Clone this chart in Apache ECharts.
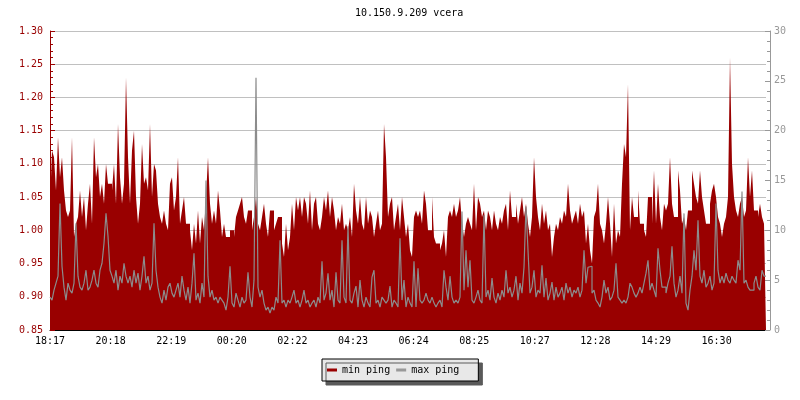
<!DOCTYPE html>
<html>
<head>
<meta charset="utf-8">
<script src="https://cdn.jsdelivr.net/npm/echarts@6/dist/echarts.min.js"></script>
<style>
html,body{margin:0;padding:0;background:#fff;}
#chart{width:800px;height:400px;}
</style>
</head>
<body>
<div id="chart"></div>
<script>
const chartTitle = '10.150.9.209 vcera';
const tickLabels = ['18:17','20:18','22:19','00:20','02:22','04:23','06:24','08:25','10:27','12:28','14:29','16:30'];
const seriesNames = ['min ping', 'max ping'];

const minPing = [
1.04,1.12,1.11,1.06,1.14,1.08,1.11,1.06,1.03,1.02,
1.03,1.14,0.99,1.01,1.02,1.06,1.02,1.05,1.00,1.04,
1.07,1.01,1.14,1.08,1.10,1.05,1.07,1.04,1.10,1.07,
1.07,1.06,1.10,1.04,1.16,1.08,1.04,1.07,1.23,1.11,
1.04,1.12,1.15,1.05,1.01,1.04,1.13,1.07,1.08,1.06,
1.16,1.05,1.10,1.09,1.04,1.02,1.01,1.03,1.01,1.00,
1.07,1.08,1.03,1.05,1.11,1.01,1.03,1.05,1.01,1.01,
1.00,0.97,1.01,0.98,1.03,0.98,1.02,1.00,1.05,1.11,
1.04,1.01,1.03,1.01,1.06,1.03,0.99,1.01,0.99,0.99,

1.00,1.00,0.99,1.02,1.03,1.04,1.05,1.02,1.01,1.03,
1.03,1.00,1.02,1.05,1.01,1.00,1.02,1.04,1.01,0.99,
1.03,1.03,1.00,1.01,1.02,1.02,0.98,0.96,1.01,0.97,
0.99,1.04,1.00,1.05,1.03,1.05,1.02,1.05,1.04,1.01,
1.06,1.00,1.04,1.05,1.01,1.00,1.02,1.05,1.03,1.06,
1.02,1.05,1.03,1.00,1.02,1.01,1.04,1.00,1.01,1.00,
1.02,0.99,1.07,1.03,1.01,1.05,1.01,1.00,1.05,1.01,
1.03,1.02,0.99,1.01,1.03,1.00,1.01,1.16,1.11,1.02,
1.04,1.05,1.00,1.02,1.04,1.00,1.05,1.02,0.99,1.01,

0.97,0.96,1.02,1.03,1.02,1.03,1.01,1.06,1.04,1.00,
1.00,1.05,0.99,0.98,0.98,0.97,0.98,1.00,0.96,1.02,
1.03,1.02,1.04,1.02,1.03,1.05,1.01,0.99,1.01,1.02,
1.01,1.00,1.07,1.00,1.05,1.04,1.02,1.03,1.00,1.03,
1.02,1.00,1.03,1.01,1.00,1.02,1.01,1.03,1.04,1.00,
1.06,1.02,1.02,1.04,1.01,1.03,1.05,1.02,1.04,1.01,
0.99,1.02,1.11,1.05,1.02,1.00,1.04,1.01,1.03,1.00,
1.01,0.96,0.99,1.01,1.00,1.02,1.01,1.03,1.02,1.07,
1.03,1.01,1.02,1.03,1.01,1.04,1.02,1.03,0.98,1.01,

0.97,0.95,1.02,1.03,1.07,1.01,1.00,0.98,1.01,1.05,
1.01,0.96,1.04,0.98,1.00,0.99,1.07,1.13,1.11,1.22,
1.00,1.05,1.02,1.02,1.06,1.01,1.01,1.00,0.99,1.05,
1.05,1.01,1.09,1.01,1.07,1.02,1.00,1.04,1.03,1.04,
1.11,1.04,1.02,1.02,1.09,1.06,1.01,1.02,1.00,1.03,
1.03,1.09,1.07,1.05,1.04,1.09,1.05,1.03,1.01,1.01,
1.04,1.06,1.07,1.05,1.02,1.01,0.99,1.01,1.02,1.05,
1.26,1.10,1.05,1.03,1.02,1.04,1.05,1.02,1.03,1.11,
1.05,1.09,1.03,1.03,1.02,1.04,1.02,1.01
];

const maxPing = [
3.3,3.0,4.0,4.7,5.4,12.7,6.4,4.3,3.0,4.7,
4.0,3.7,4.7,10.7,5.4,4.3,4.0,4.7,6.0,4.0,
4.3,5.0,6.0,4.7,4.3,6.0,6.7,8.7,11.7,9.4,
6.0,5.4,4.7,6.0,4.0,5.4,4.7,6.7,5.4,4.7,
5.4,4.3,6.0,4.7,5.7,4.0,5.4,7.4,4.7,5.4,
4.0,4.7,10.7,6.0,4.3,3.3,2.7,4.0,3.0,4.3,
4.7,3.7,3.3,4.0,4.7,3.3,5.4,4.0,3.0,4.3,
2.7,4.7,7.7,3.0,3.7,2.7,4.7,3.3,15.0,5.4,
3.3,4.0,3.0,3.3,2.7,3.3,3.0,2.7,2.0,3.3,

6.4,2.7,2.3,3.7,3.0,2.3,3.3,2.7,3.0,5.8,
3.3,2.3,5.0,25.3,4.3,3.3,4.0,2.7,2.0,2.3,
1.7,2.3,2.0,3.3,2.7,9.0,2.7,3.0,2.3,3.0,
2.7,3.3,4.0,2.7,3.0,2.3,3.0,4.0,2.7,3.0,
2.3,2.7,3.0,2.3,3.3,2.7,6.9,3.0,3.7,5.7,
3.0,4.0,2.3,5.8,3.0,2.7,9.0,3.3,2.7,10.4,
3.0,2.7,3.7,4.4,2.3,5.0,3.0,2.3,3.3,2.7,
2.3,5.3,6.0,2.7,3.0,2.3,3.3,3.0,2.7,3.0,
4.4,2.3,3.0,2.7,2.3,9.2,3.0,5.0,2.3,3.3,

2.7,2.3,6.9,2.3,6.2,3.0,2.7,3.0,3.7,3.0,
2.7,3.3,2.7,2.3,2.7,3.0,2.3,6.0,4.3,3.0,
5.4,3.3,2.7,3.0,2.7,3.3,11.9,4.0,8.0,4.3,
7.0,3.0,2.7,3.3,4.0,3.0,2.7,11.5,3.3,4.0,
3.0,5.2,3.3,2.7,3.7,3.0,4.0,3.3,6.0,3.7,
4.3,3.3,4.0,5.4,3.0,4.7,3.7,6.3,12.4,8.0,
3.7,4.3,6.0,3.3,4.0,3.7,6.5,3.3,5.2,3.0,
3.7,4.8,3.0,4.3,3.3,3.7,4.3,3.0,4.7,3.7,
4.3,3.3,4.0,3.7,4.3,3.3,4.0,8.0,4.7,6.3,

6.4,3.7,4.0,3.0,2.7,2.3,3.3,5.0,3.7,4.3,
3.0,3.3,4.0,6.7,3.3,3.0,2.7,3.0,2.7,3.3,
4.7,4.3,3.7,3.3,3.7,4.3,3.7,4.7,5.7,7.0,
4.0,4.7,4.0,3.3,8.2,6.0,4.3,4.3,3.7,4.7,
5.4,8.4,4.7,3.3,4.0,5.4,3.7,11.7,2.7,2.0,
4.0,5.4,8.0,6.0,11.0,5.4,4.7,6.0,4.3,4.7,
5.4,4.0,4.7,12.7,6.0,4.7,5.4,4.7,5.7,5.0,
4.7,5.4,5.0,4.7,7.0,6.0,13.9,4.7,5.0,4.3,
4.0,4.0,4.7,5.4,4.3,4.0,6.0,5.4
];

const N = minPing.length;
const TICK_STEP = 30.3; // samples between time labels
const FONT = 'DejaVu Sans Mono';
const RED = '#990000';
const GRAY = '#999999';
const LINE_GRAY = '#8c8c8c';

// each sample holds its value over its whole interval [i, i+1]
function stepData(arr) {
  const d = [];
  arr.forEach((v, i) => { d.push([i, v]); d.push([i + 1, v]); });
  return d;
}

const chart = echarts.init(document.getElementById('chart'), null, {renderer: 'canvas'});
chart.setOption({
  animation: false,
  backgroundColor: '#ffffff',
  title: {
    text: chartTitle,
    left: 355, top: 8, padding: 0,
    textStyle: {fontFamily: FONT, fontSize: 10, fontWeight: 'normal', color: '#000'}
  },
  legend: {
    data: [{name: seriesNames[0], icon: 'rect'}, {name: seriesNames[1], icon: 'rect'}],
    left: 322, top: 359,
    padding: [6, 19, 6, 5],
    itemWidth: 10, itemHeight: 3, itemGap: 6,
    backgroundColor: '#e8e8e8',
    borderColor: '#000', borderWidth: 1, borderRadius: 0,
    shadowColor: '#5a5a5a', shadowBlur: 0, shadowOffsetX: 4, shadowOffsetY: 4,
    textStyle: {fontFamily: FONT, fontSize: 10, color: '#000'},
    selectedMode: false
  },
  grid: {left: 50, right: 34, top: 31, bottom: 70, containLabel: false},
  xAxis: {
    type: 'value', min: 0, max: N, interval: TICK_STEP,
    axisLine: {show: true, onZero: false, lineStyle: {color: '#000', width: 1}},
    axisTick: {show: true, inside: true, length: 4, lineStyle: {color: '#000'}},
    splitLine: {show: false},
    axisLabel: {
      fontFamily: FONT, fontSize: 10, color: '#000', margin: 6, showMaxLabel: false,
      formatter: function (val) {
        const k = Math.round(val / TICK_STEP);
        return (Math.abs(val - k * TICK_STEP) < 0.01 && k < tickLabels.length) ? tickLabels[k] : '';
      }
    }
  },
  yAxis: [{
    type: 'value', min: 0.85, max: 1.30, interval: 0.05, position: 'left',
    axisLine: {show: true, lineStyle: {color: RED, width: 1}},
    axisTick: {show: true, inside: true, length: 5, lineStyle: {color: RED}},
    minorTick: {show: true, splitNumber: 5, length: 3, lineStyle: {color: RED}},
    splitLine: {show: true, lineStyle: {color: '#c0c0c0', width: 1}},
    axisLabel: {fontFamily: FONT, fontSize: 10, color: RED, margin: 7,
      formatter: v => v.toFixed(2)}
  }, {
    type: 'value', min: 0, max: 30, interval: 5, position: 'right', offset: 4,
    axisLine: {show: true, lineStyle: {color: GRAY, width: 1}},
    axisTick: {show: true, inside: true, length: 5, lineStyle: {color: GRAY}},
    minorTick: {show: true, splitNumber: 5, length: 3, lineStyle: {color: GRAY}},
    splitLine: {show: false},
    axisLabel: {fontFamily: FONT, fontSize: 10, color: GRAY, margin: 4}
  }],
  series: [{
    name: seriesNames[0], type: 'line', yAxisIndex: 0,
    data: stepData(minPing), showSymbol: false, symbol: 'none',
    itemStyle: {color: RED},
    lineStyle: {width: 0, color: RED},
    areaStyle: {color: RED, opacity: 1, origin: 'start'},
    z: 2
  }, {
    name: seriesNames[1], type: 'line', yAxisIndex: 1,
    data: stepData(maxPing), showSymbol: false, symbol: 'none',
    itemStyle: {color: GRAY},
    lineStyle: {width: 1.2, color: LINE_GRAY},
    z: 3
  }]
});
</script>
</body>
</html>
